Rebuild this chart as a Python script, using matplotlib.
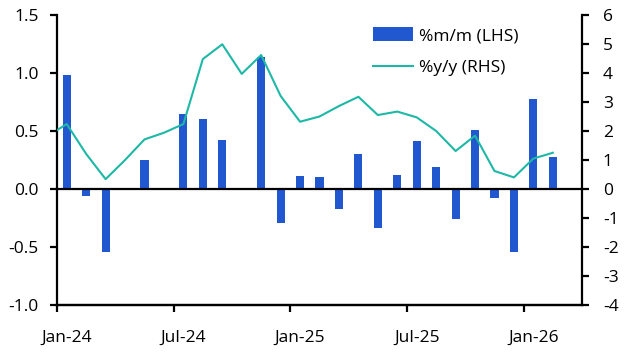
import numpy as np
import matplotlib
matplotlib.use("Agg")
import matplotlib.pyplot as plt

plt.rcParams['font.family'] = ['Open Sans', 'DejaVu Sans']
plt.rcParams['axes.unicode_minus'] = False

# monthly data, Jan-24 .. Feb-26
months = ['Jan-24', 'Feb-24', 'Mar-24', 'Apr-24', 'May-24', 'Jun-24', 'Jul-24', 'Aug-24',
          'Sep-24', 'Oct-24', 'Nov-24', 'Dec-24', 'Jan-25', 'Feb-25', 'Mar-25', 'Apr-25',
          'May-25', 'Jun-25', 'Jul-25', 'Aug-25', 'Sep-25', 'Oct-25', 'Nov-25', 'Dec-25',
          'Jan-26', 'Feb-26']
mm = [0.98, -0.06, -0.54, 0.0, 0.25, 0.0, 0.65, 0.60, 0.42, 0.0, 1.14, -0.29,
      0.11, 0.10, -0.17, 0.30, -0.34, 0.12, 0.41, 0.19, -0.26, 0.51, -0.08, -0.54,
      0.78, 0.28]
# y/y starts one month earlier (Dec-23), clipped at the axis
yy = [1.82, 2.24, 1.21, 0.34, 1.00, 1.71, 1.94, 2.24, 4.48, 4.99, 3.97, 4.62, 3.21,
      2.32, 2.50, 2.86, 3.18, 2.55, 2.67, 2.47, 2.00, 1.31, 1.84, 0.62, 0.40,
      1.05, 1.25]
tick_labels = ['Jan-24', 'Jul-24', 'Jan-25', 'Jul-25', 'Jan-26']
tick_pos = [0, 6, 12, 18, 24]

blue = '#2158D0'
teal = '#1DB8A6'
fs = 12.5

fig = plt.figure(figsize=(6.29, 3.55), dpi=100)
ax = fig.add_axes([57/629, 1-305/355, (582-57)/629, (305-15)/355])
ax2 = ax.twinx()

x = np.arange(len(mm)) + 0.5
ax.bar(x, mm, width=0.42, color=blue, label='%m/m (LHS)', zorder=2)
ax.axhline(0, color='black', lw=1.6, zorder=3)

xl = np.arange(len(yy)) - 0.5
ax2.plot(xl, yy, color=teal, lw=1.5, label='%y/y (RHS)')

ax.set_xlim(0, 27)
ax.set_ylim(-1.0, 1.5)
ax.set_yticks([-1.0, -0.5, 0.0, 0.5, 1.0, 1.5])
ax.set_yticklabels(['-1.0', '-0.5', '0.0', '0.5', '1.0', '1.5'])
ax2.set_ylim(-4, 6)
ax2.set_yticks(range(-4, 7))

ax.set_xticks(tick_pos)
ax.set_xticklabels([])
ax.set_xticks([p + 0.5 for p in tick_pos], minor=True)
ax.set_xticklabels(tick_labels, minor=True)

for a in (ax, ax2):
    a.spines['top'].set_visible(False)
    for s in ('left', 'right', 'bottom'):
        a.spines[s].set_linewidth(1.6)
    a.tick_params(axis='y', length=5, width=1.6, labelsize=fs, pad=8, colors='black')
ax2.tick_params(axis='y', pad=10)
ax.tick_params(axis='x', which='major', length=5, width=1.6)
ax.tick_params(axis='x', which='minor', length=0, labelsize=fs, pad=18)
ax2.spines['left'].set_visible(False)
ax.spines['right'].set_visible(False)

h1, l1 = ax.get_legend_handles_labels()
h2, l2 = ax2.get_legend_handles_labels()
ax2.legend(h1 + h2, l1 + l2, loc='upper left', bbox_to_anchor=(370/629, 1-24/355),
           bbox_transform=fig.transFigure, frameon=False, fontsize=fs,
           handlelength=2.3, handleheight=0.85, handletextpad=0.3, labelspacing=0.85,
           borderaxespad=0, borderpad=0.2)

fig.savefig('out.png', dpi=100)
